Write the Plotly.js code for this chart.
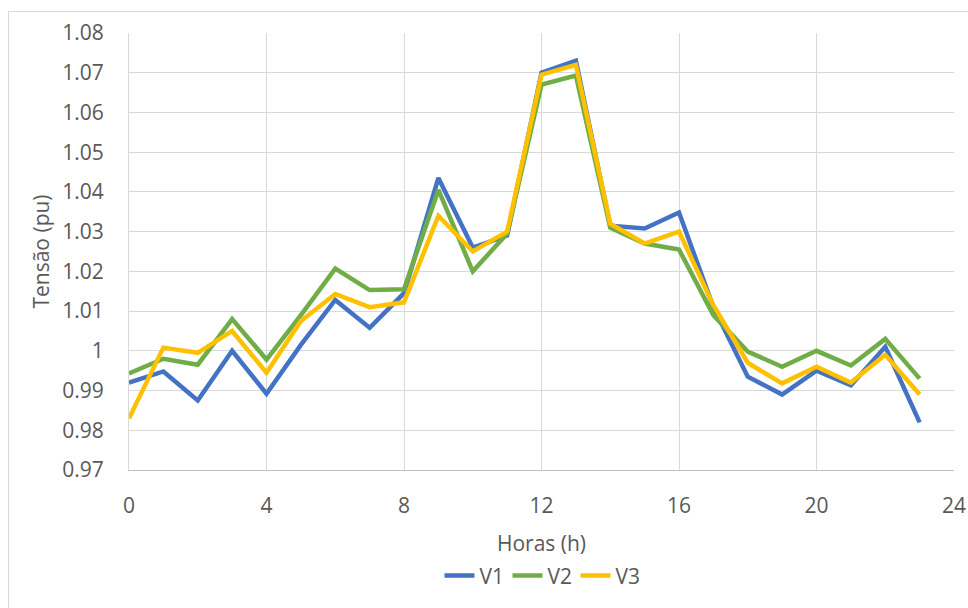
<!DOCTYPE html>
<html><head><meta charset="utf-8">
<script src="https://cdn.plot.ly/plotly-3.0.1.min.js"></script>
<style>
html,body{margin:0;padding:0;background:#fff;}
#wrap{position:relative;width:968px;height:608px;overflow:hidden;}
#frame{position:absolute;left:8px;top:11px;width:1000px;height:700px;border:1px solid #d9d9d9;box-sizing:border-box;}
#chart{position:absolute;left:0;top:0;width:968px;height:608px;}
</style></head>
<body><div id="wrap"><div id="frame"></div><div id="chart"></div></div>
<script>
const hours = [0,1,2,3,4,5,6,7,8,9,10,11,12,13,14,15,16,17,18,19,20,21,22,23];
const V1 = [0.992,0.9948,0.9875,1.000,0.9892,1.0015,1.0128,1.0058,1.0145,1.0435,1.026,1.029,1.070,1.073,1.0315,1.0308,1.0348,1.011,0.9935,0.989,0.995,0.9913,1.001,0.982];
const V2 = [0.9943,0.998,0.9965,1.008,0.9978,1.009,1.0207,1.0153,1.0155,1.0405,1.020,1.0295,1.067,1.0693,1.031,1.027,1.0255,1.009,0.9998,0.996,1.000,0.9963,1.003,0.993];
const V3 = [0.983,1.0008,0.9995,1.005,0.9945,1.0075,1.0143,1.011,1.0122,1.034,1.025,1.030,1.0695,1.072,1.032,1.027,1.030,1.0115,0.997,0.9918,0.996,0.992,0.999,0.989];
const names = ['V1','V2','V3'];
const colors = ['#4472C4','#70AD47','#FFC000'];
const series = [V1,V2,V3];
const xTicks = [0,4,8,12,16,20,24];
const yTicks = [0.97,0.98,0.99,1,1.01,1.02,1.03,1.04,1.05,1.06,1.07,1.08];
const yTickText = ['0.97','0.98','0.99','1','1.01','1.02','1.03','1.04','1.05','1.06','1.07','1.08'];

const traces = series.map((s,i)=>({
  x: hours, y: s, name: names[i], type:'scatter', mode:'lines',
  line:{color:colors[i], width:4.5}
}));
const font = {family:'"Open Sans", "Liberation Sans", Arial, sans-serif', color:'#595959', size:21};
const layout = {
  width:968, height:608,
  margin:{l:129, r:14, t:33, b:136},
  paper_bgcolor:'rgba(0,0,0,0)', plot_bgcolor:'rgba(0,0,0,0)',
  font: font,
  showlegend:true,
  legend:{orientation:'h', x:0.5, xanchor:'center', y:-0.242, yanchor:'middle', font:font,
    entrywidth:23, entrywidthmode:'pixels', tracegroupgap:0, itemwidth:30},
  xaxis:{range:[0,24], tickvals:xTicks, ticktext:xTicks.map(String), showgrid:true, gridcolor:'#d9d9d9', gridwidth:1,
    showline:true, linecolor:'#bfbfbf', linewidth:1, zeroline:false, ticks:'', ticklabelstandoff:17,
    title:{text:'Horas (h)', font:font, standoff:18}, tickfont:font},
  yaxis:{range:[0.97,1.08], tickvals:yTicks, ticktext:yTickText, showgrid:true, gridcolor:'#d9d9d9', gridwidth:1,
    showline:true, linecolor:'#d9d9d9', linewidth:1, zeroline:false, ticks:'', ticklabelstandoff:20,
    title:{text:'Tensão (pu)', font:font, standoff:6}, tickfont:font}
};
Plotly.newPlot('chart', traces, layout, {displayModeBar:false, staticPlot:true});
</script></body></html>
